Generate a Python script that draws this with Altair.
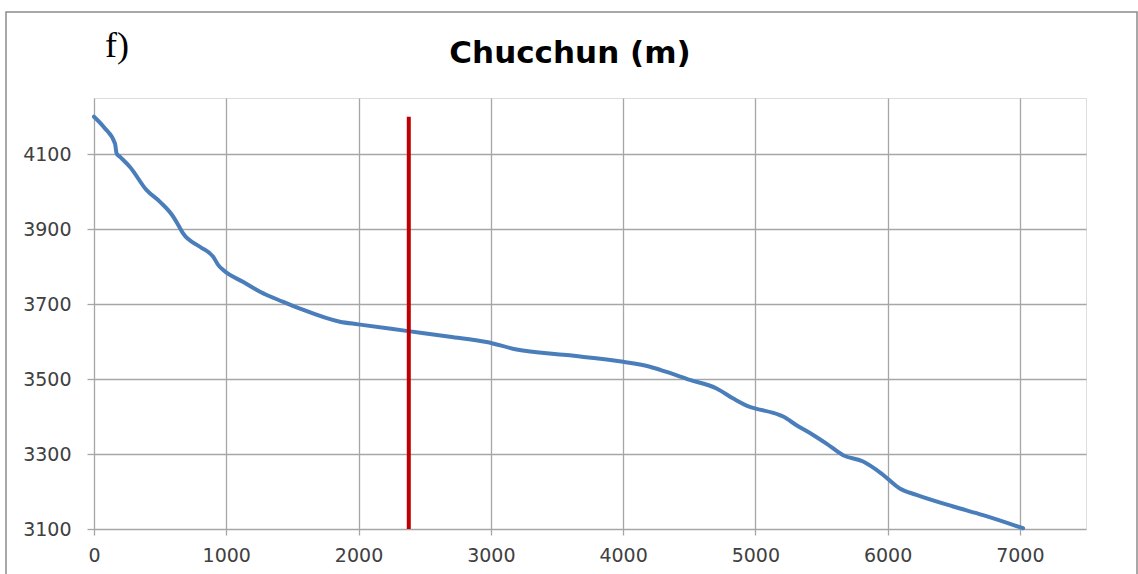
import altair as alt
import pandas as pd

# Longitudinal profile of the Chucchun channel: distance (m) vs elevation (m)
distance = [0, 80, 159, 171, 197, 272, 398, 499, 600, 637, 675, 801, 902, 940, 977,
            1129, 1255, 1431, 1557, 1859, 1998, 2376, 2691, 2968, 3195, 3573,
            4001, 4203, 4329, 4505, 4707, 4833, 4958, 4996, 5185, 5210, 5311,
            5437, 5538, 5664, 5815, 5954, 6092, 6218, 6496, 6722, 7024]
elevation = [4200, 4170, 4128, 4102, 4093, 4066, 4004, 3973, 3933, 3911, 3888, 3853,
             3826, 3804, 3791, 3759, 3733, 3706, 3688, 3653, 3646, 3628, 3613,
             3599, 3579, 3564, 3546, 3533, 3519, 3498, 3475, 3448, 3426, 3422,
             3404, 3400, 3377, 3351, 3328, 3297, 3280, 3248, 3208, 3191, 3160,
             3137, 3102]

# Marker for the reference station along the channel
marker_x = [2380, 2380]
marker_y = [3100, 4200]

x_ticks = [0, 1000, 2000, 3000, 4000, 5000, 6000, 7000]
y_ticks = [3100, 3300, 3500, 3700, 3900, 4100]

profile = pd.DataFrame({"distance": distance, "elevation": elevation})
marker = pd.DataFrame({"distance": marker_x, "elevation": marker_y})

W, H = 992, 431
grid = "#a6a6a6"
label_font = "DejaVu Sans"

x_scale = alt.Scale(domain=[0, 7500], nice=False, zero=False)
y_scale = alt.Scale(domain=[3100, 4250], nice=False, zero=False)

x_axis = alt.Axis(values=x_ticks, format="d", title=None, grid=True, gridColor=grid,
                  gridWidth=1.3, domain=False, ticks=True, tickColor=grid,
                  tickSize=6, tickWidth=1.3, labelFont=label_font, labelFlush=False,
                  labelOverlap=False, labelFontSize=19, labelColor="#404040",
                  labelPadding=11)
y_axis = alt.Axis(values=y_ticks, format="d", title=None, grid=True, gridColor=grid,
                  gridWidth=1.3, domain=False, ticks=True, tickColor=grid,
                  tickSize=7, tickWidth=1.3, labelFont=label_font, labelFlush=False,
                  labelOverlap=False, labelFontSize=19, labelColor="#404040",
                  labelPadding=16)

line = alt.Chart(profile).mark_line(
    color="#4a7ebb", strokeWidth=4, strokeJoin="round", strokeCap="round",
    interpolate="monotone"
).encode(
    x=alt.X("distance:Q", scale=x_scale, axis=x_axis),
    y=alt.Y("elevation:Q", scale=y_scale, axis=y_axis),
)

red = alt.Chart(marker).mark_line(color="#c00000", strokeWidth=4).encode(
    x=alt.X("distance:Q", scale=x_scale),
    y=alt.Y("elevation:Q", scale=y_scale),
)

border = alt.Chart(pd.DataFrame({"a": [0]})).mark_rect(
    fill=None, stroke="#8c8c8c", strokeWidth=1.5, clip=False
).encode(
    x=alt.value(-88), x2=alt.value(1043), y=alt.value(-86), y2=alt.value(500)
)

title = alt.Chart(pd.DataFrame({"t": ["Chucchun (m)"]})).mark_text(
    font="DejaVu Sans", fontWeight="bold", fontSize=31, color="#000000",
    align="center", baseline="alphabetic"
).encode(x=alt.value(476), y=alt.value(-35), text="t:N")

panel = alt.Chart(pd.DataFrame({"t": ["f)"]})).mark_text(
    font="Liberation Serif", fontSize=36, color="#000000",
    align="left", baseline="alphabetic"
).encode(x=alt.value(11), y=alt.value(-41), text="t:N")

chart = alt.layer(line, red, border, title, panel).properties(
    width=W, height=H,
    autosize=alt.AutoSizeParams(type="none"),
    padding={"left": 94, "top": 98, "right": 52, "bottom": 45},
).configure_view(stroke=None).configure(background="white")

chart.save("out.html", embed_options={"renderer": "svg", "actions": False})
